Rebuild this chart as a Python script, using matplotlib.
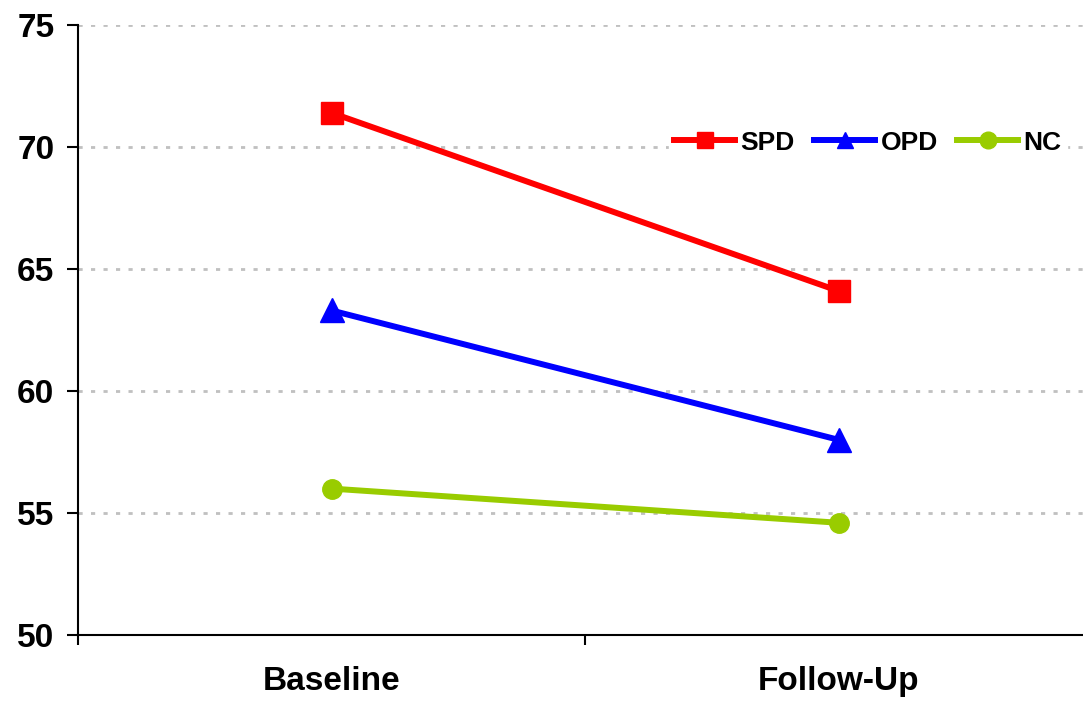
import matplotlib.pyplot as plt

# Data
categories = ["Baseline", "Follow-Up"]
spd = [71.4, 64.1]
opd = [63.3, 58.0]
nc = [56.0, 54.6]

plt.rcParams['font.family'] = ['Liberation Sans', 'DejaVu Sans']
plt.rcParams['font.weight'] = 'bold'

fig = plt.figure(figsize=(10.83, 7.02), dpi=100)
# plot area runs a little past the right edge of the picture
ax = fig.add_axes([78 / 1083, 67 / 702, 1014 / 1083, 610 / 702])

x = range(len(categories))
ax.plot(x, spd, color='#ff0000', lw=4.3, marker='s', ms=16, label='SPD')
ax.plot(x, opd, color='#0000ff', lw=4.3, marker='^', ms=17, label='OPD')
ax.plot(x, nc, color='#99cc00', lw=4.3, marker='o', ms=14, label='NC')

ax.set_xlim(-0.5, 1.5)
ax.set_ylim(50, 75)
ax.set_yticks([50, 55, 60, 65, 70, 75])
ax.set_xticks([-0.5, 0.5, 1.5])
ax.set_xticklabels([])
ax.set_xticks(list(x), minor=True)
ax.set_xticklabels(categories, minor=True, fontsize=24, fontweight='bold')
ax.tick_params(axis='x', which='minor', length=0, pad=22)
ax.tick_params(axis='x', which='major', length=7, width=1.5, direction='out')
ax.tick_params(axis='y', labelsize=24, length=8, width=1.5, pad=9)

for s in ['top', 'right']:
    ax.spines[s].set_visible(False)
for s in ['left', 'bottom']:
    ax.spines[s].set_linewidth(1.5)

ax.yaxis.grid(True, color='#c0c0c0', linestyle=(0, (1.5, 3)), lw=2)
ax.set_axisbelow(True)
for lbl in ax.get_yticklabels():
    lbl.set_fontweight('bold')

leg = ax.legend(ncol=3, loc='center left', bbox_to_anchor=(0.57, 0.807),
                bbox_transform=ax.transAxes, frameon=True,
                handlelength=2.3, handletextpad=0.2, columnspacing=0.75,
                borderpad=0.2, prop={'weight': 'bold', 'size': 19})
leg.get_frame().set_facecolor('white')
leg.get_frame().set_edgecolor('white')
leg.get_frame().set_alpha(1)
for h in leg.legend_handles:
    h.set_markersize(12)

fig.savefig('out.png', dpi=100)
